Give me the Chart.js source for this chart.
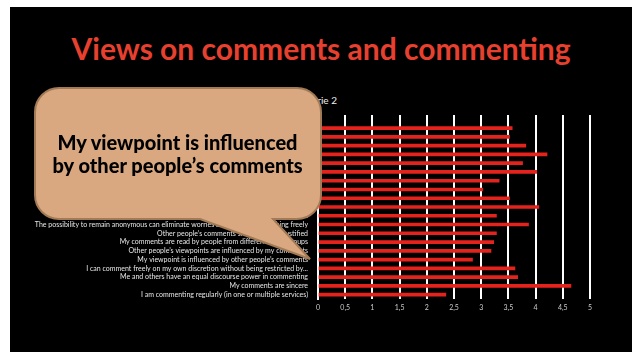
<!DOCTYPE html>
<html>
<head>
<meta charset="utf-8">
<script src="https://cdn.jsdelivr.net/npm/chart.js@4/dist/chart.umd.min.js"></script>
<style>
  html, body { margin:0; padding:0; background:#fff; width:632px; height:352px; overflow:hidden; }
  #slide { position:absolute; left:10px; top:7px; width:622px; height:345px; background:#000; }
  #title { position:absolute; left:0; top:30px; width:642px; text-align:center; font-family:Lato, sans-serif; font-weight:bold; font-size:30px; color:#e8402f; margin:0; }
  #wrap { position:absolute; left:0; top:0; width:632px; height:352px; }
  #legend { position:absolute; left:237px; top:94px; width:100px; text-align:right; font-family:Lato, sans-serif; font-size:10px; color:#eee; }
  #bubble { position:absolute; left:0; top:0; }
  #btext { position:absolute; left:35px; top:88px; width:285px; height:131px; display:flex; align-items:center; justify-content:center; text-align:center; font-family:Lato, sans-serif; font-weight:900; font-size:20px; line-height:23px; color:#000; }
</style>
</head>
<body>
<div id="slide"></div>
<h1 id="title">Views on comments and commenting</h1>
<div id="legend">Serie 2</div>
<div id="wrap"><canvas id="c" width="632" height="352"></canvas></div>
<svg id="bubble" width="632" height="352">
  <path d="M 59 88 H 297 A 24 24 0 0 1 321 112 V 195 A 24 24 0 0 1 297 219 H 273 L 310 259 L 200 219 H 59 A 24 24 0 0 1 35 195 V 112 A 24 24 0 0 1 59 88 Z" fill="#d9a880" stroke="#a27a55" stroke-width="2"/>
</svg>
<div id="btext">My viewpoint is influenced<br>by other people’s comments</div>
<script>
const seriesName = 'Serie 2';
const categories = [
  '',
  'Commenting is an important part of reading online news',
  'I read the comments of other people regularly',
  'Comments add value to the original content',
  'I appreciate the possibility to comment',
  'Comments make the content more interesting',
  'I like to read the opinions of other people',
  'Commenting lets me take part in discussion',
  'I comment mostly on topics that interest me',
  'Comments give me new information',
  'I can express my opinion in comments',
  'I feel my comments are taken into account',
  'The possibility to remain anonymous can eliminate worries about saying something freely',
  'Other people\u2019s comments should be well justified',
  'My comments are read by people from different social groups',
  'Other people\u2019s viewpoints are influenced by my comments',
  'My viewpoint is influenced by other people\u2019s comments',
  'I can comment freely on my own discretion without being restricted by...',
  'Me and others have an equal discourse power in commenting',
  'My comments are sincere',
  'I am commenting regularly (in one or multiple services)'
];
const scores = [null, 3.57, 3.52, 3.82, 4.21, 3.76, 4.02, 3.33, 3.03, 3.52, 4.06, 3.28, 3.87, 3.28, 3.23, 3.18, 2.84, 3.62, 3.67, 4.65, 2.35];
const tickLabels = ['0','0,5','1','1,5','2','2,5','3','3,5','4','4,5','5'];

new Chart(document.getElementById('c'), {
  type: 'bar',
  data: {
    labels: categories,
    datasets: [{ label: seriesName, data: scores, backgroundColor: '#e4231d', barThickness: 3 }]
  },
  options: {
    indexAxis: 'y',
    responsive: false,
    animation: false,
    layout: { padding: { left: 0, top: 115, right: 42, bottom: 33 } },
    plugins: { legend: { display: false }, tooltip: { enabled: false } },
    scales: {
      x: {
        min: 0, max: 5,
        ticks: { stepSize: 0.5, color: '#ccc', font: { family: 'Lato', size: 7 }, padding: 5,
                 callback: (v, i) => tickLabels[i] },
        grid: { color: '#fff', lineWidth: 2, drawTicks: false },
        border: { display: false },
        afterFit: s => { s.height = 20; }
      },
      y: {
        ticks: { color: '#e6e6e6', font: { family: 'Lato', size: 7 }, padding: 2, autoSkip: false },
        grid: { display: false },
        border: { color: '#fff', width: 2 },
        afterFit: s => { s.width = 318; }
      }
    }
  }
});
</script>
</body>
</html>
